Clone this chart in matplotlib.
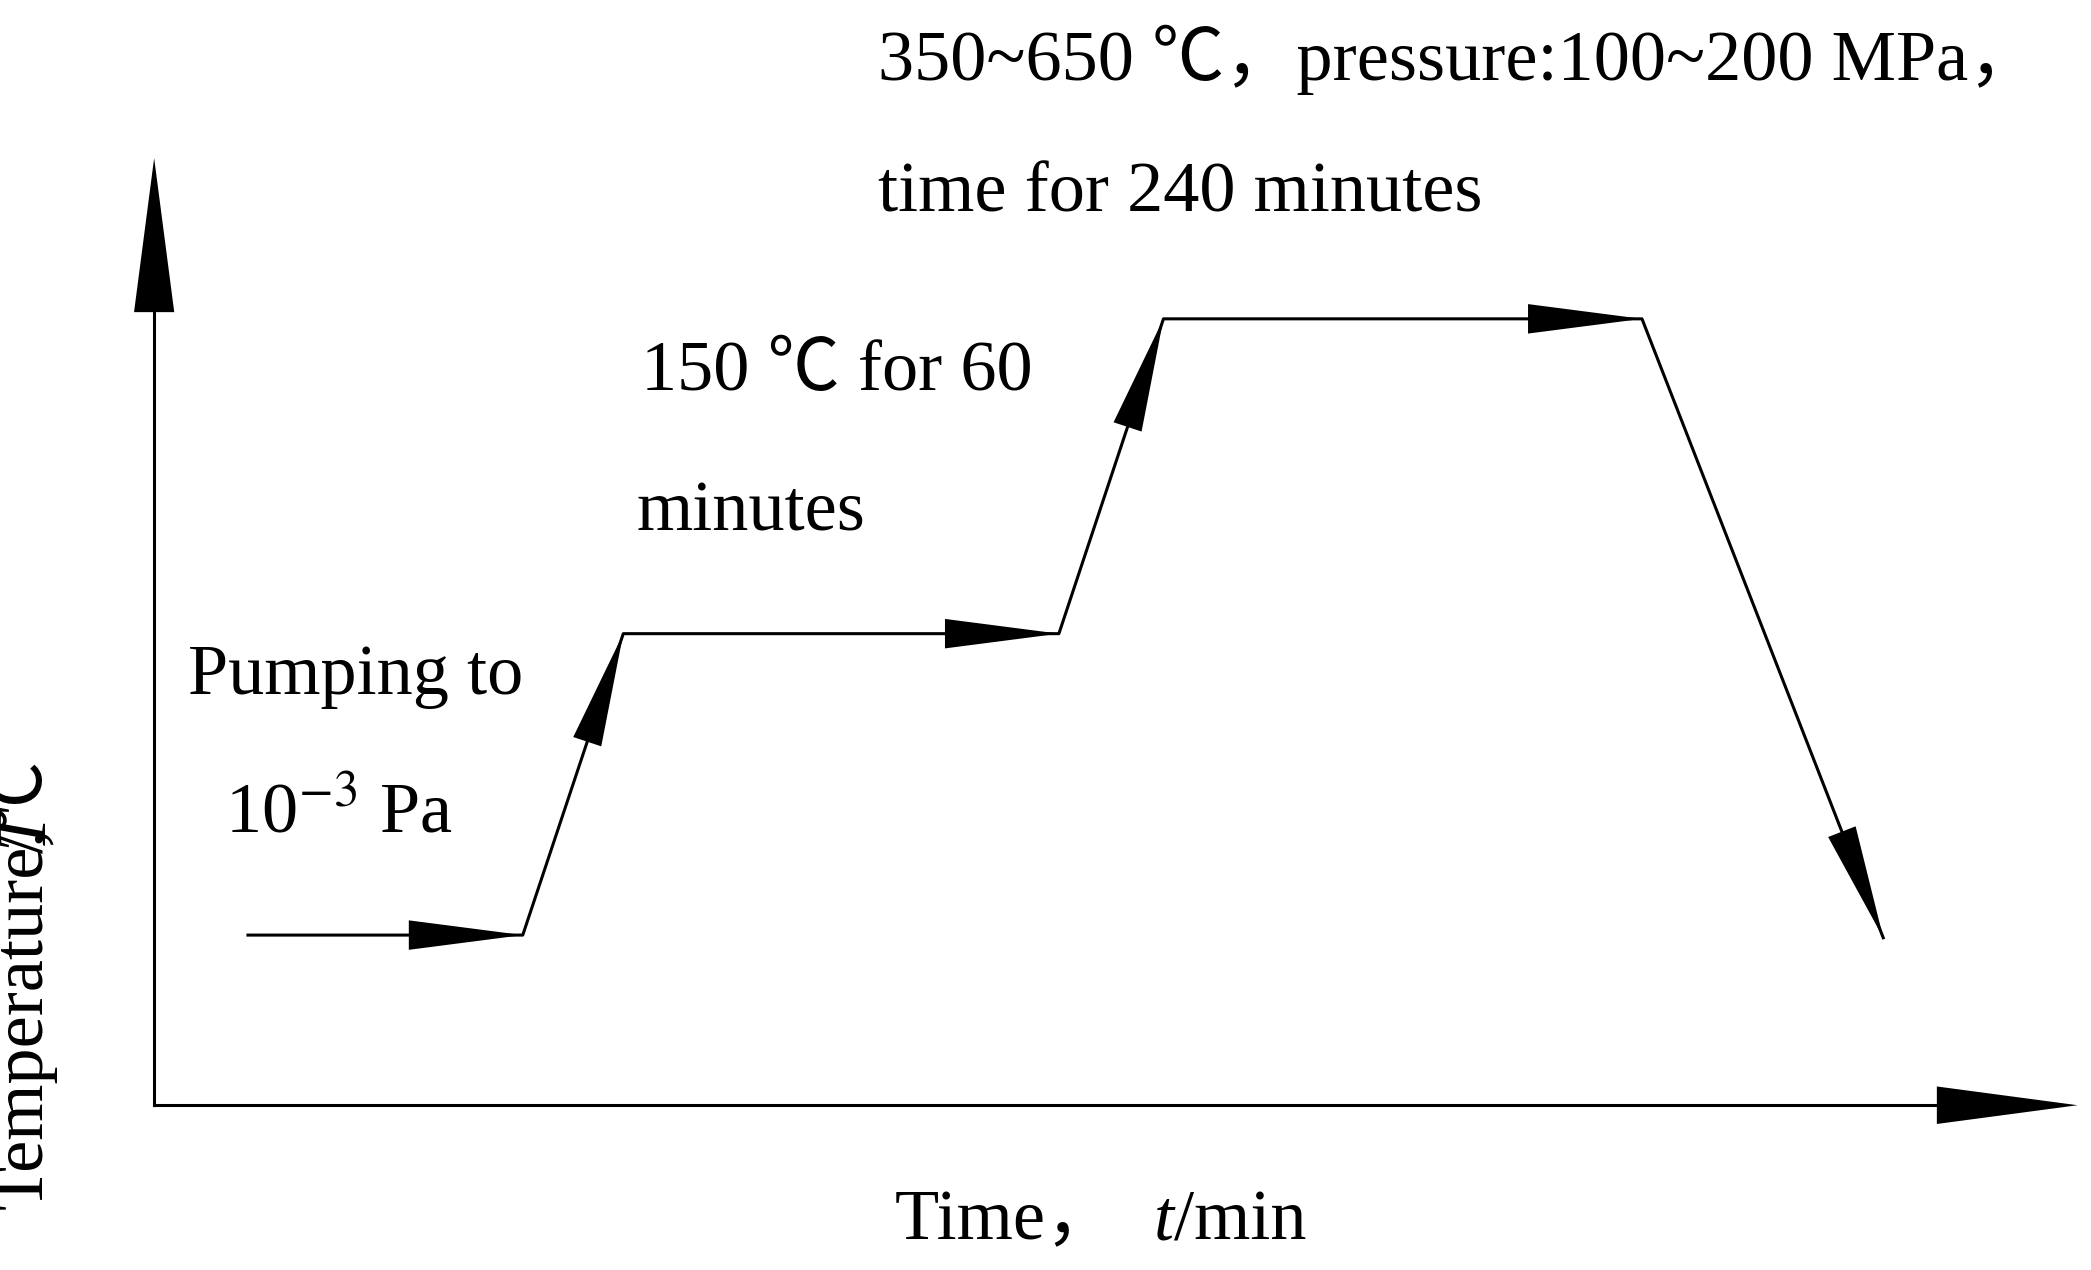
import matplotlib
matplotlib.use("Agg")
import matplotlib.pyplot as plt
import numpy as np

plt.rcParams['font.family'] = ['Liberation Serif', 'Noto Sans CJK SC', 'DejaVu Sans']
plt.rcParams['mathtext.fontset'] = 'stix'

# process path (schematic, time vs temperature, pixel-like units)
path_x = [185, 390, 465, 790, 868, 1225, 1405]
path_y = [698, 698, 473, 473, 238, 238, 700]

fig = plt.figure(figsize=(20.91, 12.70), dpi=100)
ax = fig.add_axes([0, 0, 1, 1])
ax.set_xlim(0, 1560)
ax.set_ylim(948, 0)
ax.axis('off')

def head(p0, p1, length, width):
    p0 = np.array(p0, float); p1 = np.array(p1, float)
    d = p1 - p0; d /= np.hypot(*d)
    n = np.array([-d[1], d[0]])
    base = p1 - d * length
    tri = np.array([p1, base + n * width / 2, base - n * width / 2])
    ax.fill(tri[:, 0], tri[:, 1], color='black', lw=0)

lw = 2.2
ax.plot([115, 115], [825, 200], color='black', lw=lw)
ax.plot([115, 1480], [825, 825], color='black', lw=lw)
head((115, 825), (115, 118), 115, 30)
head((115, 825), (1550, 825), 105, 28)

ax.plot(path_x, path_y, color='black', lw=lw)
for i in range(len(path_x) - 1):
    head((path_x[i], path_y[i]), (path_x[i + 1], path_y[i + 1]), 85, 22)

fs = 52
ax.text(655, 45, "350~650 ℃，pressure:100~200 MPa，", fontsize=fs, va='center', ha='left')
ax.text(655, 145, "time for 240 minutes", fontsize=fs, va='center', ha='left')
ax.text(478, 278, "150 ℃ for 60", fontsize=fs, va='center', ha='left')
ax.text(475, 383, "minutes", fontsize=fs, va='center', ha='left')
ax.text(140, 505, "Pumping to", fontsize=fs, va='center', ha='left')
ax.text(168, 608, "10$^{-3}$ Pa", fontsize=fs, va='center', ha='left')

renderer = fig.canvas.get_renderer()
inv = ax.transData.inverted()

def chain(pieces, x0, y0, horizontal):
    x, y = x0, y0
    for s, style in pieces:
        if horizontal:
            t = ax.text(x, y, s, fontsize=fs, style=style, va='center', ha='left')
            bb = t.get_window_extent(renderer)
            x = inv.transform((bb.x1, bb.y0))[0]
        else:
            t = ax.text(x, y, s, fontsize=fs, style=style, va='bottom', ha='center',
                        rotation=90, rotation_mode='anchor')
            bb = t.get_window_extent(renderer)
            y = inv.transform((bb.x0, bb.y1))[1]

chain([("Temperature,", 'normal'), ("T", 'italic'), ("/℃", 'normal')], 42, 760, False)
chain([("Time，  ", 'normal'), ("t", 'italic'), ("/min", 'normal')], 668, 912, True)

fig.savefig("out.png", dpi=100)
